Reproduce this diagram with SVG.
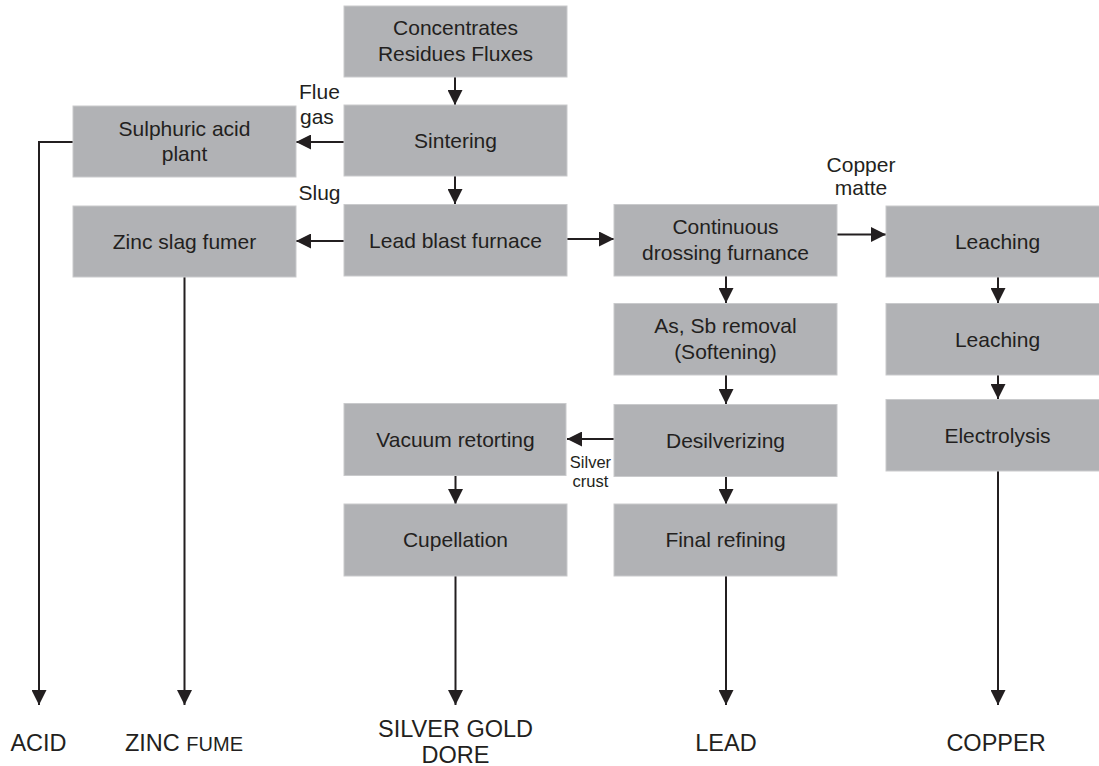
<svg xmlns="http://www.w3.org/2000/svg" width="1099" height="766" viewBox="0 0 1099 766">
<style>
.box{fill:#b1b2b5;stroke:#c9cacc;stroke-width:1}
.t{font-family:"Liberation Sans",Arial,sans-serif;font-size:21px;fill:#231f20;text-anchor:middle}
.l{font-family:"Liberation Sans",Arial,sans-serif;font-size:21px;fill:#231f20}
.s{font-family:"Liberation Sans",Arial,sans-serif;font-size:16.5px;fill:#231f20;text-anchor:middle}
.o{font-family:"Liberation Sans",Arial,sans-serif;font-size:23.5px;fill:#231f20;text-anchor:middle}
.c{fill:none;stroke:#231f20;stroke-width:2}
</style>
<defs>
<marker id="ah" markerUnits="userSpaceOnUse" markerWidth="15" markerHeight="15" refX="15" refY="7.5" orient="auto">
<path d="M0,0 L15,7.5 L0,15 z" fill="#231f20"/>
</marker>
</defs>
<rect width="1099" height="766" fill="#ffffff"/>

<g id="connectors">
<line class="c" x1="455" y1="77" x2="455" y2="105" marker-end="url(#ah)"/>
<line class="c" x1="455" y1="176" x2="455" y2="204" marker-end="url(#ah)"/>
<line class="c" x1="344" y1="142" x2="296" y2="142" marker-end="url(#ah)"/>
<line class="c" x1="344" y1="241" x2="296" y2="241" marker-end="url(#ah)"/>
<line class="c" x1="567" y1="239" x2="614" y2="239" marker-end="url(#ah)"/>
<line class="c" x1="837" y1="234.5" x2="886" y2="234.5" marker-end="url(#ah)"/>
<line class="c" x1="726" y1="276" x2="726" y2="303" marker-end="url(#ah)"/>
<line class="c" x1="726" y1="375" x2="726" y2="404" marker-end="url(#ah)"/>
<line class="c" x1="614" y1="439" x2="567" y2="439" marker-end="url(#ah)"/>
<line class="c" x1="455.5" y1="475" x2="455.5" y2="504" marker-end="url(#ah)"/>
<line class="c" x1="726" y1="476.5" x2="726" y2="504" marker-end="url(#ah)"/>
<line class="c" x1="998" y1="277" x2="998" y2="303" marker-end="url(#ah)"/>
<line class="c" x1="998" y1="375" x2="998" y2="399" marker-end="url(#ah)"/>
<polyline class="c" points="73,142 39,142 39,705" marker-end="url(#ah)"/>
<line class="c" x1="184.5" y1="277" x2="184.5" y2="705" marker-end="url(#ah)"/>
<line class="c" x1="455.5" y1="576" x2="455.5" y2="705" marker-end="url(#ah)"/>
<line class="c" x1="726" y1="576" x2="726" y2="705" marker-end="url(#ah)"/>
<line class="c" x1="998" y1="471" x2="998" y2="705" marker-end="url(#ah)"/>
</g>

<g id="concentrates"><rect class="box" x="344" y="6" width="223" height="71"/><text class="t" x="455.5" y="35">Concentrates</text><text class="t" x="455.5" y="61">Residues Fluxes</text></g>
<g id="sintering"><rect class="box" x="344" y="105" width="223" height="71"/><text class="t" x="455.5" y="148">Sintering</text></g>
<g id="sulphuric"><rect class="box" x="73" y="106" width="223" height="71"/><text class="t" x="184.5" y="136">Sulphuric acid</text><text class="t" x="184.5" y="161">plant</text></g>
<g id="lbf"><rect class="box" x="344" y="204.5" width="223" height="71.5"/><text class="t" x="455.5" y="247.5">Lead blast furnace</text></g>
<g id="zinc"><rect class="box" x="73" y="206" width="223" height="71"/><text class="t" x="184.5" y="249">Zinc slag fumer</text></g>
<g id="cdf"><rect class="box" x="614" y="204.5" width="223" height="71.5"/><text class="t" x="725.5" y="234">Continuous</text><text class="t" x="725.5" y="259.5">drossing furnance</text></g>
<g id="leaching1"><rect class="box" x="886" y="206" width="223" height="71"/><text class="t" x="997.5" y="249">Leaching</text></g>
<g id="assb"><rect class="box" x="614" y="303.5" width="223" height="71.5"/><text class="t" x="725.5" y="333">As, Sb removal</text><text class="t" x="725.5" y="358.5">(Softening)</text></g>
<g id="leaching2"><rect class="box" x="886" y="303.5" width="223" height="71.5"/><text class="t" x="997.5" y="347">Leaching</text></g>
<g id="electrolysis"><rect class="box" x="886" y="399.5" width="223" height="71.5"/><text class="t" x="997.5" y="443">Electrolysis</text></g>
<g id="desilverizing"><rect class="box" x="614" y="404.5" width="223" height="72"/><text class="t" x="725.5" y="448">Desilverizing</text></g>
<g id="vacuum"><rect class="box" x="344" y="403.5" width="222" height="72"/><text class="t" x="455.5" y="447">Vacuum retorting</text></g>
<g id="cupellation"><rect class="box" x="344" y="504" width="223" height="72"/><text class="t" x="455.5" y="547">Cupellation</text></g>
<g id="final"><rect class="box" x="614" y="504" width="223" height="72"/><text class="t" x="725.5" y="547">Final refining</text></g>

<g id="labels">
<text class="l" x="299" y="99">Flue</text>
<text class="l" x="300" y="124">gas</text>
<text class="l" x="298.5" y="200">Slug</text>
<text class="t" x="861" y="172">Copper</text>
<text class="t" x="861" y="195">matte</text>
<text class="s" x="590.5" y="467.5">Silver</text>
<text class="s" x="590.5" y="487">crust</text>
</g>

<g id="outputs">
<text class="o" x="38.5" y="751">ACID</text>
<text class="o" x="184" y="751">ZINC <tspan font-size="20">FUME</tspan></text>
<text class="o" x="455.5" y="737">SILVER GOLD</text>
<text class="o" x="455.5" y="762.5">DORE</text>
<text class="o" x="726" y="751">LEAD</text>
<text class="o" x="996" y="751">COPPER</text>
</g>
</svg>
